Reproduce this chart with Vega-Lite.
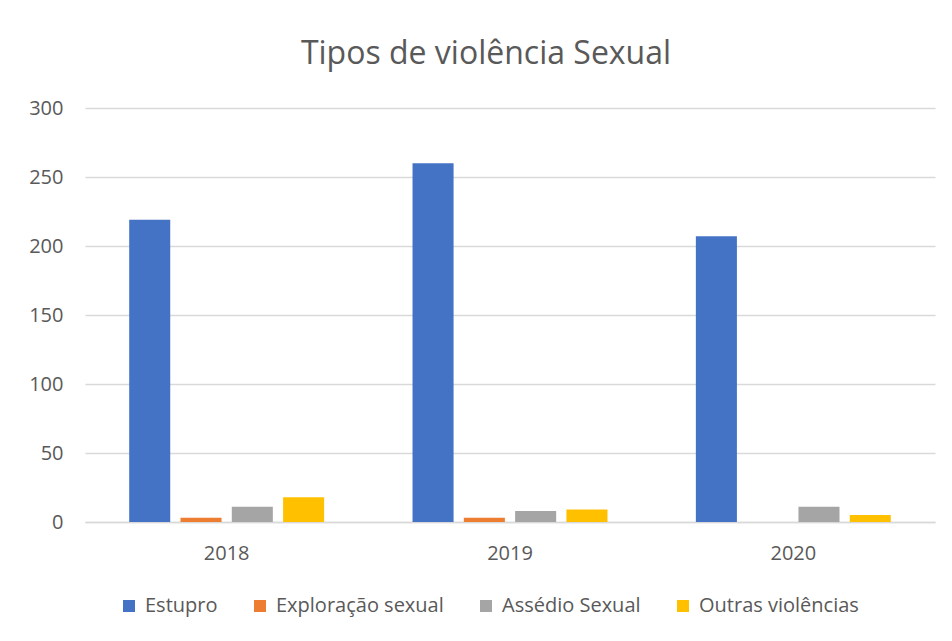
{
  "$schema": "https://vega.github.io/schema/vega-lite/v6.json",
  "width": 850,
  "height": 414,
  "autosize": {"type": "none"},
  "padding": {"left": 85, "top": 108, "right": 17, "bottom": 119},
  "background": "white",
  "title": {
    "text": "Tipos de violência Sexual",
    "font": "Open Sans",
    "fontSize": 32,
    "fontWeight": "normal",
    "color": "#595959",
    "anchor": "middle",
    "dx": -24,
    "offset": 27
  },
  "data": {
    "values": [
      {"ano": "2018", "tipo": "Estupro", "valor": 219},
      {"ano": "2018", "tipo": "Exploração sexual", "valor": 3},
      {"ano": "2018", "tipo": "Assédio Sexual", "valor": 11},
      {"ano": "2018", "tipo": "Outras violências", "valor": 18},
      {"ano": "2019", "tipo": "Estupro", "valor": 260},
      {"ano": "2019", "tipo": "Exploração sexual", "valor": 3},
      {"ano": "2019", "tipo": "Assédio Sexual", "valor": 8},
      {"ano": "2019", "tipo": "Outras violências", "valor": 9},
      {"ano": "2020", "tipo": "Estupro", "valor": 207},
      {"ano": "2020", "tipo": "Exploração sexual", "valor": 0},
      {"ano": "2020", "tipo": "Assédio Sexual", "valor": 11},
      {"ano": "2020", "tipo": "Outras violências", "valor": 5}
    ]
  },
  "mark": {"type": "bar"},
  "encoding": {
    "x": {
      "field": "ano",
      "type": "nominal",
      "title": null,
      "scale": {"paddingInner": 0.312, "paddingOuter": 0.156},
      "axis": {
        "labelAngle": 0,
        "labelFont": "Open Sans",
        "labelFontSize": 20,
        "labelColor": "#595959",
        "labelPadding": 21,
        "ticks": false,
        "tickSize": 0,
        "domainColor": "#D9D9D9",
        "domainWidth": 1.5
      }
    },
    "xOffset": {
      "field": "tipo",
      "type": "nominal",
      "sort": ["Estupro", "Exploração sexual", "Assédio Sexual", "Outras violências"],
      "scale": {"paddingInner": 0.2, "paddingOuter": 0}
    },
    "y": {
      "field": "valor",
      "type": "quantitative",
      "title": null,
      "scale": {"domain": [0, 300]},
      "axis": {
        "values": [0, 50, 100, 150, 200, 250, 300],
        "labelFont": "Open Sans",
        "labelFontSize": 20,
        "labelColor": "#595959",
        "labelPadding": 22,
        "ticks": false,
        "tickSize": 0,
        "domain": false,
        "gridColor": "#D9D9D9",
        "gridWidth": 1.5
      }
    },
    "color": {
      "field": "tipo",
      "type": "nominal",
      "sort": ["Estupro", "Exploração sexual", "Assédio Sexual", "Outras violências"],
      "scale": {
        "domain": ["Estupro", "Exploração sexual", "Assédio Sexual", "Outras violências"],
        "range": ["#4472C4", "#ED7D31", "#A5A5A5", "#FFC000"]
      },
      "legend": {
        "title": null,
        "orient": "none",
        "legendX": 34,
        "legendY": 488,
        "padding": 0,
        "direction": "horizontal",
        "symbolType": "square",
        "symbolSize": 144,
        "symbolStrokeWidth": 0,
        "labelFont": "Open Sans",
        "labelFontSize": 20,
        "labelColor": "#595959",
        "labelOffset": 6,
        "labelLimit": 0,
        "columnPadding": 32
      }
    }
  },
  "config": {
    "view": {"stroke": null}
  }
}
